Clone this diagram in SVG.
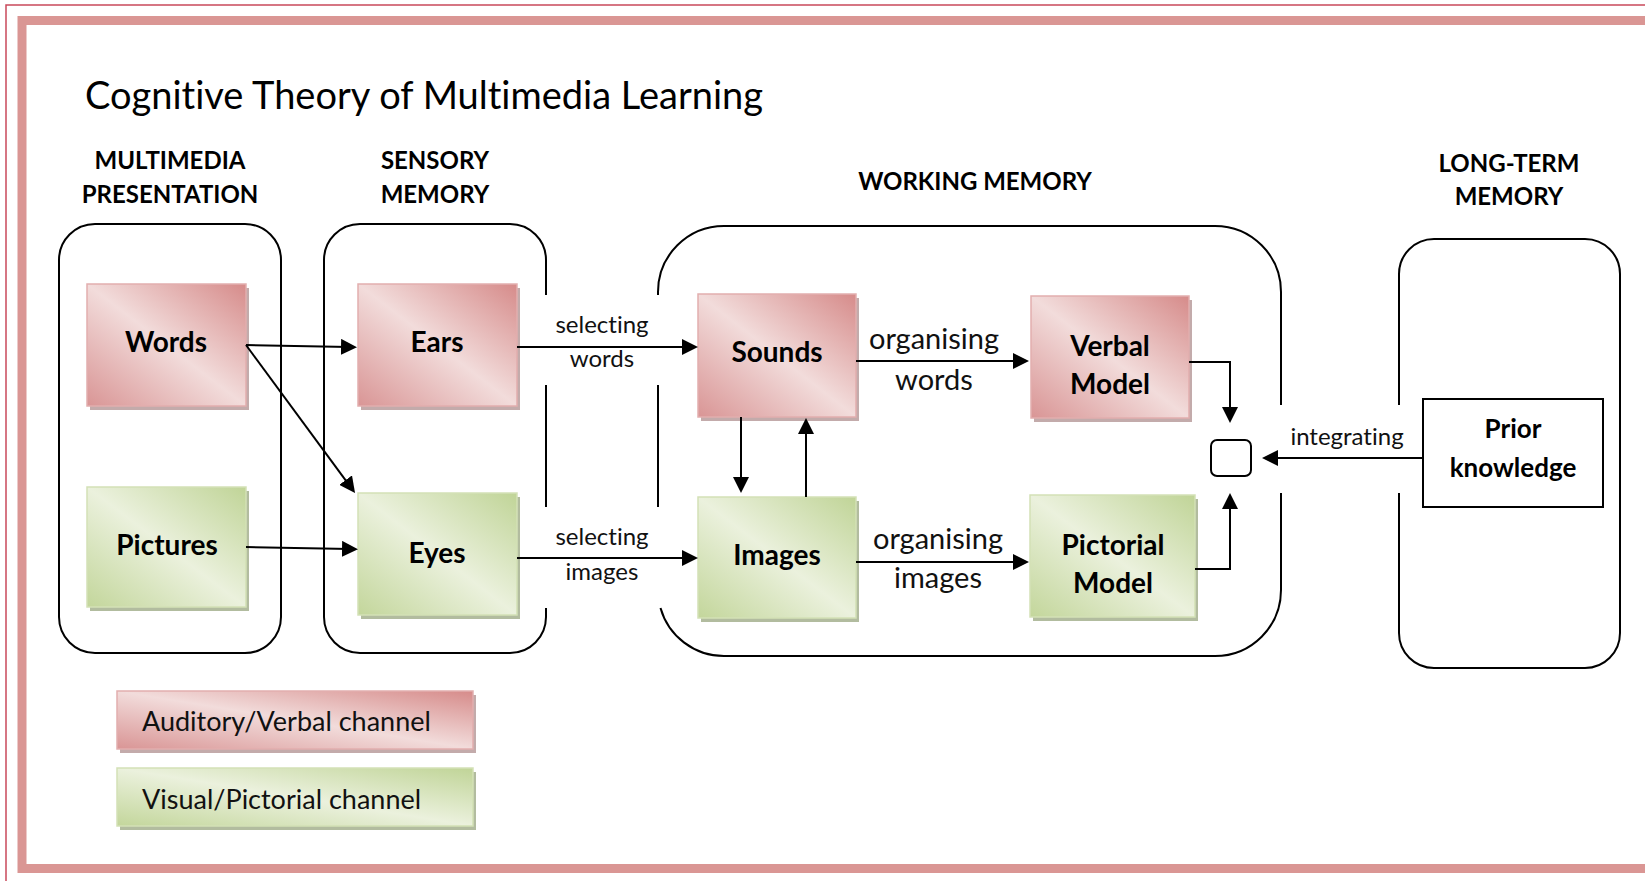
<svg xmlns="http://www.w3.org/2000/svg" width="1645" height="881" viewBox="0 0 1645 881">
  <defs>
    <linearGradient id="gRed" x1="1" y1="0" x2="0" y2="1">
      <stop offset="0" stop-color="#d68b8a"/>
      <stop offset="0.5" stop-color="#f2dcdb"/>
      <stop offset="1" stop-color="#d99595"/>
    </linearGradient>
    <linearGradient id="gGreen" x1="1" y1="0" x2="0" y2="1">
      <stop offset="0" stop-color="#c0d497"/>
      <stop offset="0.5" stop-color="#ebf1dd"/>
      <stop offset="1" stop-color="#c3d69b"/>
    </linearGradient>
    <marker id="ah" markerUnits="userSpaceOnUse" markerWidth="16" markerHeight="16" viewBox="0 0 16 16" refX="8" refY="8" orient="auto">
      <path d="M0,0 L16,8 L0,16 z" fill="#000"/>
    </marker>
    <style>
      .frame-thin { fill: none; stroke: #c9495b; stroke-width: 1.5; }
      .frame-band { fill: none; stroke: #da9694; stroke-width: 9; }
      .cont { fill: none; stroke: #000; stroke-width: 2; }
      .conn { fill: none; stroke: #000; stroke-width: 2; marker-end: url(#ah); }
      .red { fill: url(#gRed); stroke: #e2aeae; stroke-width: 1.5; }
      .green { fill: url(#gGreen); stroke: #d3e1b6; stroke-width: 1.5; }
      .sh-red { fill: #b99c9c; opacity: 0.85; }
      .sh-green { fill: #a5b08e; opacity: 0.85; }
      .plain { fill: #fff; stroke: #000; stroke-width: 2; }
      text { font-family: Lato, "Open Sans", "Liberation Sans", sans-serif; fill: #000; font-variant-ligatures: none; font-feature-settings: "liga" 0, "clig" 0; }
      .title { font-size: 38px; }
      .hdr { font-size: 24px; font-weight: bold; text-anchor: middle; }
      .lbl { font-size: 28px; font-weight: bold; text-anchor: middle; }
      .lbl2 { font-size: 26px; font-weight: bold; text-anchor: middle; }
      .sel { font-size: 24px; text-anchor: middle; fill: #111; }
      .org { font-size: 29px; text-anchor: middle; fill: #111; }
      .leg { font-size: 27px; fill: #111; }
    </style>
  </defs>

  <rect width="1645" height="881" fill="#fff"/>

  <!-- page frame -->
  <path class="frame-thin" d="M6,881 V5 H1645"/>
  <rect class="frame-band" x="22" y="20.5" width="1700" height="848"/>

  <text class="title" x="85" y="109">Cognitive Theory of Multimedia Learning</text>

  <!-- column headings -->
  <g id="headings">
    <text class="hdr" x="170" y="169">MULTIMEDIA</text>
    <text class="hdr" x="170" y="203">PRESENTATION</text>
    <text class="hdr" x="435" y="169">SENSORY</text>
    <text class="hdr" x="435" y="203">MEMORY</text>
    <text class="hdr" x="975" y="190">WORKING MEMORY</text>
    <text class="hdr" x="1509" y="172">LONG-TERM</text>
    <text class="hdr" x="1509" y="205">MEMORY</text>
  </g>

  <!-- stage containers -->
  <g id="stage-presentation">
    <rect class="cont" x="59" y="224" width="222" height="429" rx="36" ry="36"/>
  </g>
  <g id="stage-sensory">
    <path class="cont" d="M546,295 V260 A36,36 0 0 0 510,224 H360 A36,36 0 0 0 324,260 V617 A36,36 0 0 0 360,653 H510 A36,36 0 0 0 546,617 V608 M546,385 V507"/>
  </g>
  <g id="stage-working">
    <path class="cont" d="M660.5,608 A66,66 0 0 0 724,656 H1215 A66,66 0 0 0 1281,590 V493 M1281,405 V292 A66,66 0 0 0 1215,226 H724 A66,66 0 0 0 658,292 V295 M658,385 V507"/>
  </g>
  <g id="stage-longterm">
    <path class="cont" d="M1399,493 V633 A35,35 0 0 0 1434,668 H1585 A35,35 0 0 0 1620,633 V274 A35,35 0 0 0 1585,239 H1434 A35,35 0 0 0 1399,274 V405"/>
  </g>

  <!-- nodes -->
  <g id="words">
    <rect class="sh-red" x="90" y="288" width="159" height="122"/>
    <rect class="red" x="87" y="284" width="159" height="122"/>
    <text class="lbl" x="166" y="352">Words</text>
  </g>
  <g id="pictures">
    <rect class="sh-green" x="90" y="491" width="159" height="120"/>
    <rect class="green" x="87" y="487" width="159" height="120"/>
    <text class="lbl" x="167" y="555">Pictures</text>
  </g>
  <g id="ears">
    <rect class="sh-red" x="361" y="288" width="159" height="122"/>
    <rect class="red" x="358" y="284" width="159" height="122"/>
    <text class="lbl" x="437" y="352">Ears</text>
  </g>
  <g id="eyes">
    <rect class="sh-green" x="361" y="497" width="159" height="122"/>
    <rect class="green" x="358" y="493" width="159" height="122"/>
    <text class="lbl" x="437" y="563">Eyes</text>
  </g>
  <g id="sounds">
    <rect class="sh-red" x="701" y="298" width="158" height="123"/>
    <rect class="red" x="698" y="294" width="158" height="123"/>
    <text class="lbl" x="777" y="362">Sounds</text>
  </g>
  <g id="images">
    <rect class="sh-green" x="701" y="501" width="158" height="121"/>
    <rect class="green" x="698" y="497" width="158" height="121"/>
    <text class="lbl" x="777" y="565">Images</text>
  </g>
  <g id="verbal-model">
    <rect class="sh-red" x="1034" y="300" width="158" height="122"/>
    <rect class="red" x="1031" y="296" width="158" height="122"/>
    <text class="lbl" x="1110" y="356">Verbal</text>
    <text class="lbl" x="1110" y="394">Model</text>
  </g>
  <g id="pictorial-model">
    <rect class="sh-green" x="1033" y="499" width="165" height="122"/>
    <rect class="green" x="1030" y="495" width="165" height="122"/>
    <text class="lbl" x="1113" y="555">Pictorial</text>
    <text class="lbl" x="1113" y="593">Model</text>
  </g>
  <g id="integration">
    <rect class="plain" x="1211" y="440" width="40" height="36" rx="6" ry="6"/>
  </g>
  <g id="prior-knowledge">
    <rect class="plain" x="1423" y="399" width="180" height="108"/>
    <text class="lbl2" x="1513" y="438">Prior</text>
    <text class="lbl2" x="1513" y="477">knowledge</text>
  </g>

  <!-- legend -->
  <g id="legend-verbal">
    <rect class="sh-red" x="120" y="695" width="356" height="58"/>
    <rect class="red" x="117" y="691" width="356" height="58"/>
    <text class="leg" x="142" y="731">Auditory/Verbal channel</text>
  </g>
  <g id="legend-pictorial">
    <rect class="sh-green" x="120" y="772" width="356" height="58"/>
    <rect class="green" x="117" y="768" width="356" height="58"/>
    <text class="leg" x="142" y="809">Visual/Pictorial channel</text>
  </g>

  <!-- connectors -->
  <g id="connectors">
    <path class="conn" d="M246,345 L349,347"/>
    <path class="conn" d="M246,345 L350.3,486.6"/>
    <path class="conn" d="M246,547 L350,549"/>
    <path class="conn" d="M517,347 H690"/>
    <path class="conn" d="M517,558 H690"/>
    <path class="conn" d="M741,417 V485"/>
    <path class="conn" d="M806,497 V426"/>
    <path class="conn" d="M856,361 H1021"/>
    <path class="conn" d="M856,562 H1021"/>
    <path class="conn" d="M1189,362 H1230 V415"/>
    <path class="conn" d="M1195,569 H1230 V501"/>
    <path class="conn" d="M1423,458 H1270"/>
    <text class="sel" x="602" y="333">selecting</text>
    <text class="sel" x="602" y="367">words</text>
    <text class="sel" x="602" y="545">selecting</text>
    <text class="sel" x="602" y="580">images</text>
    <text class="org" x="934" y="349">organising</text>
    <text class="org" x="934" y="390">words</text>
    <text class="org" x="938" y="549">organising</text>
    <text class="org" x="938" y="588">images</text>
    <text class="sel" x="1347" y="445">integrating</text>
  </g>
</svg>
